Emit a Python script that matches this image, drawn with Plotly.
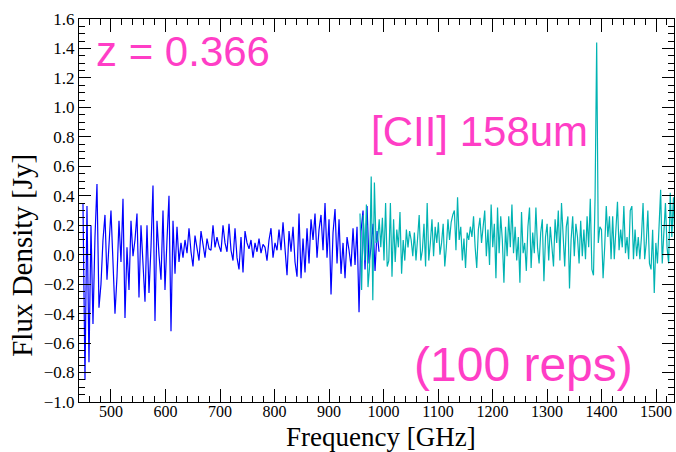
import numpy as np
import plotly.graph_objects as go

# Spectrum, lower band (blue) and upper band (teal), flux density in Jy
band1_start, band1_stop = 448.6, 991.8
band1_flux = [
    0.35, -0.85, 0.33, -0.73, 0.20, -0.47, 0.12, 0.48, -0.36, -0.20,
    0.10, 0.27, -0.17, 0.05, 0.30, -0.05, -0.40, -0.15, 0.23, -0.05,
    0.38, -0.43, 0.05, -0.24, 0.23, -0.01, 0.10, 0.28, -0.29, 0.20,
    -0.05, -0.32, 0.20, -0.26, 0.05, 0.47, -0.45, 0.23, 0.00, -0.17,
    0.30, -0.24, 0.10, 0.40, -0.52, 0.23, -0.13, 0.19, -0.05, 0.08,
    -0.02, 0.10, 0.01, 0.18, 0.02, -0.08, 0.13, 0.03, -0.04, 0.16,
    0.05, -0.02, 0.11, 0.04, 0.03, 0.20, 0.05, 0.12, 0.06, 0.02,
    0.20, 0.08, 0.02,
    0.21, 0.03, -0.04, 0.18, -0.02, -0.10, 0.12, -0.12, 0.16, 0.08,
    0.04, 0.10, -0.02, 0.08, 0.02, 0.11, 0.01, 0.07, 0.05, -0.04,
    0.10, 0.18, -0.02, 0.08, 0.03, 0.17, 0.03, 0.22, 0.05, -0.14,
    0.16, 0.02, 0.19, -0.05, -0.15, 0.28, -0.16, 0.11, -0.12, 0.18,
    -0.06, 0.24, 0.10, 0.28, -0.02, 0.17, 0.27, 0.03, 0.35, -0.02,
    0.24, -0.27, 0.15, 0.31, -0.06, 0.24, -0.13, 0.08, -0.16, 0.12,
    0.03, -0.08, 0.18, -0.07, 0.19, -0.39, 0.16, 0.30, -0.10, 0.33,
    -0.06, 0.05, 0.21, -0.11, 0.16, 0.02,
]

band2_start, band2_stop = 956.9, 1534.9
band2_flux = [
    0.28, -0.24, 0.27, -0.04, 0.34, -0.22, -0.08, 0.53, -0.31, 0.49,
    0.08, 0.10, 0.24, 0.05, 0.25, -0.04, 0.35, -0.08, -0.04, 0.35,
    -0.15, 0.24, -0.05, 0.17, 0.05, 0.29, -0.13, 0.10, -0.04, 0.17,
    0.05, 0.16, 0.10, -0.01, 0.15, -0.04, 0.11, 0.27, -0.04, 0.03,
    0.21, -0.08, 0.35, -0.04, 0.08, 0.24, -0.01, 0.19, 0.08, 0.22,
    0.00, 0.08, 0.21, -0.08, 0.05, 0.24, 0.10, 0.22, 0.27, 0.30,
    0.03, 0.39, 0.10, 0.19, -0.04, 0.11, -0.09, 0.15,
    0.10, 0.19, 0.12, 0.26, 0.05, -0.09, 0.17, 0.25, 0.08, 0.19,
    0.30, -0.01, 0.17, -0.07, 0.34, 0.05, 0.21, -0.16, 0.32, 0.01,
    0.26, 0.10, -0.19, 0.19, -0.01, 0.26, 0.05, 0.34, 0.01, 0.19,
    -0.04, 0.12, -0.19, 0.29, 0.01, 0.08, -0.11, 0.19, 0.32, -0.09,
    0.15, 0.01, 0.32, 0.05, -0.06, 0.15, 0.24, -0.18, 0.12, 0.21,
    -0.04, 0.19, 0.05, -0.08, 0.24, 0.08, 0.30, -0.04, 0.35, 0.12,
    -0.08, 0.19, 0.26, -0.23, 0.10,
    0.26, -0.01, 0.21, 0.12, -0.06, 0.23, -0.01, 0.17, -0.03, 0.26,
    0.05, 0.38, -0.10, -0.14, 0.39, 1.44, 0.08, 0.19, 0.17, -0.16,
    0.05, 0.33, 0.12, 0.26, -0.03, 0.26, -0.03, 0.17, 0.36, 0.03,
    0.17, 0.05, 0.33, 0.01, 0.12, -0.03, 0.30, 0.33, -0.03, 0.17,
    -0.01, 0.12, -0.03, 0.12, 0.35, -0.03, 0.08, 0.30, -0.06, -0.10,
    0.17, -0.26, 0.08, -0.06, 0.19, 0.44, -0.06, 0.17, 0.35, 0.05,
    -0.06, 0.42, 0.12, 0.39, 0.05,
]

band1_freq = np.linspace(band1_start, band1_stop, len(band1_flux))
band2_freq = np.linspace(band2_start, band2_stop, len(band2_flux))

x_range = [441.3, 1533]
y_range = [-1.0, 1.6]

x_title = "Frequency [GHz]"
y_title = "Flux Density [Jy]"
redshift_label = "z = 0.366"
line_label = "[CII] 158um"
reps_label = "(100 reps)"

PINK = "#ff3ec6"
SERIF = "Liberation Serif, Times New Roman, serif"
SANS = "Liberation Sans, Arial, sans-serif"

fig = go.Figure()
fig.add_trace(go.Scatter(x=band1_freq, y=band1_flux, mode="lines",
                         line=dict(color="#0000ff", width=1.2), showlegend=False))
fig.add_trace(go.Scatter(x=band2_freq, y=band2_flux, mode="lines",
                         line=dict(color="#00b3b3", width=1.2), showlegend=False))

axis_common = dict(
    showline=True, linecolor="black", linewidth=1, mirror="allticks",
    ticks="inside", tickcolor="black", showgrid=False, zeroline=False,
)

fig.update_xaxes(
    range=x_range, tick0=0, dtick=100, ticklen=13, tickwidth=1,
    tickfont=dict(family=SERIF, size=16, color="black"),
    ticklabelstandoff=-5,
    minor=dict(dtick=20, ticklen=6, tickcolor="black", ticks="inside"),
    **axis_common,
)
fig.update_yaxes(
    range=y_range, tick0=0, dtick=0.2, tickformat=".1f", ticklen=12, tickwidth=1,
    tickfont=dict(family=SERIF, size=17, color="black"),
    minor=dict(dtick=0.05, ticklen=6, tickcolor="black", ticks="inside"),
    **axis_common,
)

# Axis titles
fig.add_annotation(text=x_title, xref="paper", yref="paper", x=0.508, y=-0.091,
                   xanchor="center", yanchor="middle", showarrow=False,
                   font=dict(family=SERIF, size=27, color="black"))
fig.add_annotation(text=y_title, xref="paper", yref="paper", x=-0.096, y=0.384,
                   xanchor="center", yanchor="middle", showarrow=False, textangle=-90,
                   font=dict(family=SERIF, size=29, color="black"))

for text, x, y, size in [(redshift_label, 0.025, 0.915, 42),
                         (line_label, 0.487, 0.705, 42),
                         (reps_label, 0.56, 0.097, 48)]:
    fig.add_annotation(text=text, xref="paper", yref="paper", x=x, y=y,
                       xanchor="left", yanchor="middle", showarrow=False,
                       font=dict(family=SANS, size=size, color=PINK))

fig.update_layout(
    width=676, height=452,
    margin=dict(l=79, r=2, t=19, b=50),
    paper_bgcolor="white", plot_bgcolor="white",
)

fig.write_html("out.html")
